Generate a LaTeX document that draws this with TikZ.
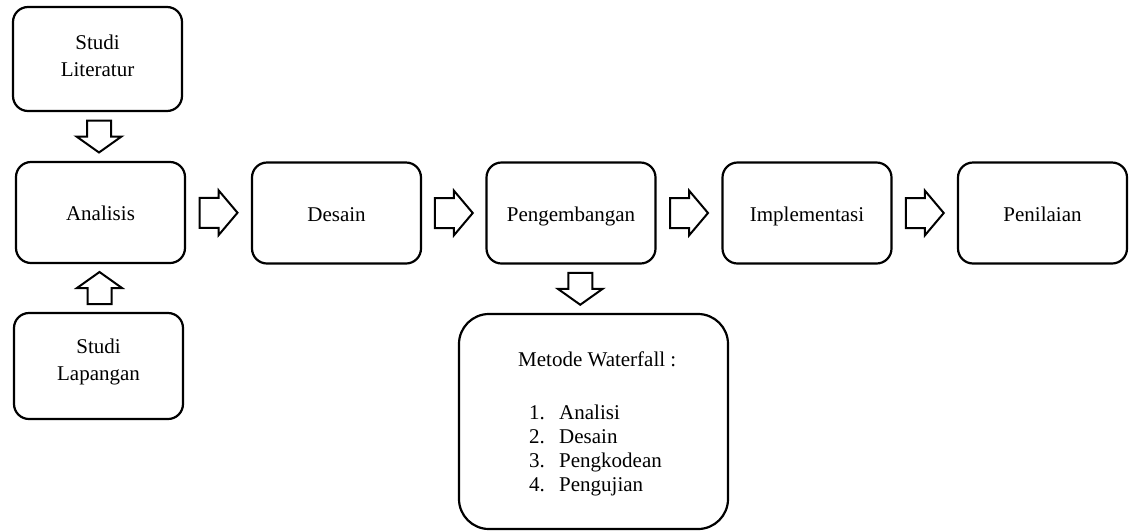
\documentclass[tikz,border=0pt]{standalone}
\usepackage{fontspec}
\setmainfont{Liberation Serif}
\usetikzlibrary{calc}
\begin{document}
\begin{tikzpicture}[x=1pt,y=-1pt,
  box/.style={draw, line width=2.2pt, rounded corners=15pt, minimum width=169pt, minimum height=101pt, inner sep=0pt, text height=16pt, text depth=0pt, font=\fontsize{21}{25}\selectfont},
  lbl/.style={inner sep=0pt, anchor=base, font=\fontsize{21}{25}\selectfont},
  arr/.style={draw, line width=2pt, fill=white, line join=miter},
  harr/.pic={\draw[arr] (-19,-15) -- (0,-15) -- (0,-22.5) -- (19,0) -- (0,22.5) -- (0,15) -- (-19,15) -- cycle;},
  varr/.pic={\draw[arr] (-16,-12) -- (0,-12) -- (0,-22.5) -- (16,0) -- (0,22.5) -- (0,12) -- (-16,12) -- cycle;}
]
\useasboundingbox (0,0) rectangle (1134,531);

\node[box, minimum height=104pt] (lit) at (97.5,59) {};
\node[lbl] (litA) at (97.5,49.3) {Studi};
\node[lbl] (litB) at (97.5,76) {Literatur};

\node[box] (ana) at (100.5,212.5) {Analisis};

\node[box, minimum height=106pt] (lap) at (98.5,366) {};
\node[lbl] (lapA) at (98.5,353.3) {Studi};
\node[lbl] (lapB) at (98.5,380) {Lapangan};

\node[box] (des) at (336.5,213) {Desain};
\node[box] (peng) at (571,213) {Pengembangan};
\node[box] (imp) at (807,213) {Implementasi};
\node[box] (pen) at (1042.5,213) {Penilaian};

\node[box, minimum width=269pt, minimum height=215pt, rounded corners=30pt] (wf) at (593.5,421.5) {};
\node[lbl, anchor=base west] (wft) at (518,366) {Metode Waterfall :};
\node[lbl, anchor=base west] (w1) at (529,419) {\makebox[30pt][l]{1.}Analisi};
\node[lbl, anchor=base west] (w2) at (529,443.3) {\makebox[30pt][l]{2.}Desain};
\node[lbl, anchor=base west] (w3) at (529,467.6) {\makebox[30pt][l]{3.}Pengkodean};
\node[lbl, anchor=base west] (w4) at (529,491.9) {\makebox[30pt][l]{4.}Pengujian};

\pic at ($(ana.east)!0.5!(des.west)$) {harr};
\pic at ($(des.east)!0.5!(peng.west)$) {harr};
\pic at ($(peng.east)!0.5!(imp.west)$) {harr};
\pic at ($(imp.east)!0.5!(pen.west)$) {harr};

\pic[rotate=-90] at ($(lit.south)!0.5!(ana.north)$) {varr};
\pic[rotate=90] at ($(lap.north)!0.5!(ana.south)$) {varr};
\pic[rotate=-90] at ($(peng.south)!0.5!(wf.north)+(-2,0)$) {varr};
\end{tikzpicture}
\end{document}
